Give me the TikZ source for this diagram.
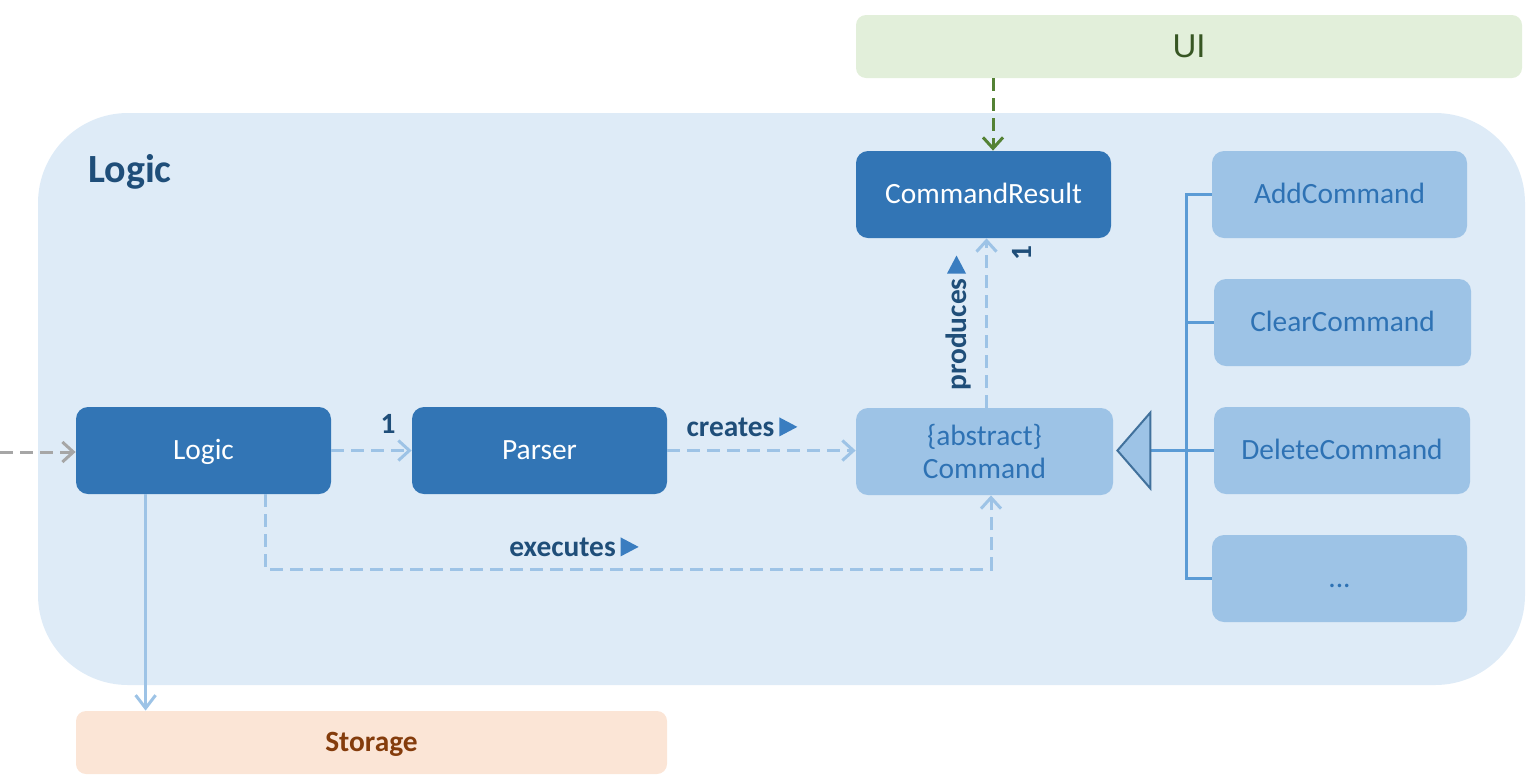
\documentclass[tikz,border=0pt]{standalone}
\usepackage{fontspec}
\setmainfont{Carlito}
\newfontfamily\uifont{Liberation Sans}
\usetikzlibrary{arrows.meta,calc}
\definecolor{contfill}{HTML}{DEEBF7}
\definecolor{darkbox}{HTML}{3275B5}
\definecolor{lightbox}{HTML}{9DC3E6}
\definecolor{lighttext}{HTML}{2E72B4}
\definecolor{labeldark}{HTML}{1F4E79}
\definecolor{triblue}{HTML}{3A7DC0}
\definecolor{inhline}{HTML}{5B9BD5}
\definecolor{inhedge}{HTML}{41719C}
\definecolor{uifill}{HTML}{E2EFDA}
\definecolor{uitext}{HTML}{375623}
\definecolor{uiarrow}{HTML}{548235}
\definecolor{stfill}{HTML}{FBE5D6}
\definecolor{sttext}{HTML}{843C0C}
\definecolor{grayarrow}{HTML}{A6A6A6}
\newcommand\labtri{\tikz[baseline=0pt]\fill[triblue] (0,0) -- (0,9.5pt) -- (9pt,4.75pt) -- cycle;}
\begin{document}
\begin{tikzpicture}[x=0.5pt,y=-0.5pt,
  nodefont/.style={font=\fontsize{14.7}{16.5}\selectfont},
  oneline/.style={text height=8.6pt, text depth=0pt},
  darkcls/.style={nodefont, oneline, fill=darkbox, text=white, rounded corners=6pt,
    minimum width=127.5pt, minimum height=43.5pt, inner sep=0pt},
  lightbase/.style={nodefont, fill=lightbox, text=lighttext, rounded corners=6pt,
    minimum width=127.5pt, minimum height=43.5pt, inner sep=0pt, align=center},
  lightcls/.style={lightbase, oneline},
  lbl/.style={font=\fontsize{14.7}{16.5}\selectfont\bfseries, text=labeldark, inner sep=0pt},
  dep/.style={draw=lightbox, line width=1.5pt, dash pattern=on 6.5pt off 3.5pt,
    -{Straight Barb[length=5.5pt,width=10pt,line width=1.5pt]}},
  solidarr/.style={draw=lightbox, line width=1.5pt,
    -{Straight Barb[length=6.5pt,width=10pt,line width=1.5pt]}},
  inh/.style={draw=inhline, line width=1.5pt},
]
\useasboundingbox (0,0) rectangle (1535,783);
% container
\fill[contfill, rounded corners=45pt] (38,113) rectangle (1525,685);
\node[font=\fontsize{20}{24}\selectfont\bfseries, text=labeldark] (title) at (130,172) {Logic};

% external boxes
\node[fill=uifill, rounded corners=5pt, minimum width=333pt, minimum height=31.5pt,
  font=\uifont\fontsize{16.5}{19}\selectfont, text=uitext] (ui) at (1189,46.5) {UI};
\node[fill=stfill, rounded corners=5pt, minimum width=295.5pt, minimum height=31.5pt,
  oneline, font=\fontsize{14.7}{17}\selectfont\bfseries, text=sttext] (storage) at (371.5,742.5) {Storage};

% classes
\node[darkcls] (logic) at (203.5,450.5) {Logic};
\node[darkcls] (parser) at (539.5,450.5) {Parser};
\node[darkcls] (cmdres) at (983.5,194.5) {CommandResult};
\node[lightbase, minimum width=128.5pt] (cmd) at (984.5,451.5) {\{abstract\}\\Command};
\node[lightcls] (add) at (1339.5,194.5) {AddCommand};
\node[lightcls, minimum width=128.5pt] (clear) at (1342.5,322.5) {ClearCommand};
\node[lightcls, minimum width=128pt] (delete) at (1342,450.5) {DeleteCommand};
\node[lightcls] (dots) at (1339.5,578.5) {...};

% incoming gray arrow
\coordinate (ext) at (0,452);
\draw[dep, draw=grayarrow] (ext) -- (ext -| logic.west);

% Logic -> Parser
\draw[dep] (logic.east) -- (parser.west);
\node[lbl] (one1) at (388,424) {1};

% Parser -> Command
\draw[dep] (parser.east) -- (cmd.west |- parser.east);
\node[lbl] (creates) at (742,427) {creates\,\labtri};

% Logic executes Command
\coordinate (exstart) at ([xshift=-33pt]logic.south east);
\coordinate (exend) at ([xshift=3.25pt]cmd.south);
\draw[dep] (exstart) -- ++(0,75) -| (exend);
\node[lbl] (executes) at (574,547) {executes\,\labtri};

% Command produces CommandResult
\coordinate (prstart) at ([xshift=1pt]cmd.north);
\draw[dep] (prstart) -- (prstart |- cmdres.south);
\node[lbl, rotate=90] (produces) at (958,323) {produces\,\labtri};
\node[lbl, rotate=90] (one2) at (1022,253) {1};

% UI -> CommandResult
\coordinate (uiend) at ([xshift=4.75pt]cmdres.north);
\draw[dep, draw=uiarrow] (uiend |- ui.south) -- (uiend);

% Logic -> Storage
\coordinate (ststart) at ([xshift=35pt]logic.south west);
\draw[solidarr] (ststart) -- (ststart |- storage.north);

% inheritance
\coordinate (tip) at ([xshift=2pt]cmd.east |- delete.west);
\coordinate (base) at ([xshift=16.5pt]tip);
\coordinate (busx) at (1186,0);
\draw[inh] (base) -- (delete.west);
\draw[inh] (add.west) -- (add.west -| busx) -- (dots.west -| busx) -- (dots.west);
\draw[inh] (clear.west) -- (clear.west -| busx);
\filldraw[fill=lightbox, draw=inhedge, line width=1pt, line join=miter]
  (tip) -- ($(base)+(0,-38)$) -- ($(base)+(0,38)$) -- cycle;
\end{tikzpicture}
\end{document}
